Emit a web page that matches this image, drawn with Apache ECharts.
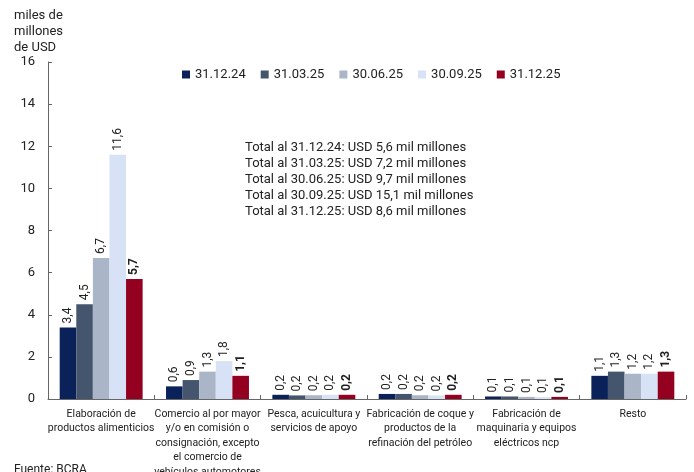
<!DOCTYPE html>
<html><head><meta charset="utf-8">
<script src="https://cdn.jsdelivr.net/npm/echarts@6/dist/echarts.min.js"></script>
<style>html,body{margin:0;padding:0;background:#fff}#c{width:694px;height:472px}</style>
</head><body><div id="c"></div>
<script>
const categories = [
  "Elaboración de\nproductos alimenticios",
  "Comercio al por mayor\ny/o en comisión o\nconsignación, excepto\nel comercio de\nvehículos automotores\ny motocicletas",
  "Pesca, acuicultura y\nservicios de apoyo",
  "Fabricación de coque y\nproductos de la\nrefinación del petróleo",
  "Fabricación de\nmaquinaria y equipos\neléctricos ncp",
  "Resto"
];
const seriesNames = ["31.12.24", "31.03.25", "30.06.25", "30.09.25", "31.12.25"];
const s1 = [3.4, 0.6, 0.2, 0.24, 0.12, 1.1];
const s2 = [4.5, 0.9, 0.17, 0.24, 0.12, 1.3];
const s3 = [6.7, 1.3, 0.18, 0.18, 0.1, 1.2];
const s4 = [11.6, 1.8, 0.2, 0.17, 0.09, 1.2];
const s5 = [5.7, 1.1, 0.2, 0.2, 0.1, 1.3];
const colors = ["#0b2159", "#46556e", "#aab6c8", "#d7e2f6", "#930020"];
const totals = [
  "Total al 31.12.24: USD 5,6 mil millones",
  "Total al 31.03.25: USD 7,2 mil millones",
  "Total al 30.06.25: USD 9,7 mil millones",
  "Total al 30.09.25: USD 15,1 mil millones",
  "Total al 31.12.25: USD 8,6 mil millones"
];
const yTicks = {min: 0, max: 16, interval: 2};
const FONT = "Roboto";
const all = [s1, s2, s3, s4, s5];
const chart = echarts.init(document.getElementById('c'), null, {renderer: 'canvas'});
chart.setOption({
  animation: false,
  textStyle: {fontFamily: FONT},
  color: colors,
  grid: {left: 48, right: 8, top: 62, bottom: 73, containLabel: false, outerBoundsMode: 'none'},
  title: [
    {text: "miles de\nmillones\nde USD", left: 9, top: 3, textStyle: {fontFamily: FONT, fontSize: 13, fontWeight: 'normal', color: '#222', lineHeight: 16}},
    {text: totals.join("\n"), left: 240, top: 135, textStyle: {fontFamily: FONT, fontSize: 13, fontWeight: 'normal', color: '#222', lineHeight: 16}},
    {text: "Fuente: BCRA", left: 9, top: 459, textStyle: {fontFamily: FONT, fontSize: 12, fontWeight: 'normal', color: '#222'}}
  ],
  legend: {
    data: seriesNames, top: 63, left: 177, itemWidth: 8, itemHeight: 8, itemGap: 15,
    icon: 'rect', textStyle: {fontFamily: FONT, fontSize: 13, color: '#222'}
  },
  xAxis: {
    type: 'category', data: categories,
    axisLine: {lineStyle: {color: '#666'}},
    axisTick: {show: true, inside: true, length: 4, alignWithLabel: false, lineStyle: {color: '#666'}},
    axisLabel: {interval: 0, fontFamily: FONT, fontSize: 10.5, color: '#222', lineHeight: 14.5, margin: 8}
  },
  yAxis: {
    type: 'value', min: yTicks.min, max: yTicks.max, interval: yTicks.interval,
    splitLine: {show: false},
    axisLine: {show: true, lineStyle: {color: '#666'}},
    axisTick: {show: true, inside: true, length: 4, lineStyle: {color: '#666'}},
    axisLabel: {fontFamily: FONT, fontSize: 13, color: '#222', margin: 13}
  },
  series: all.map((d, i) => ({
    name: seriesNames[i], type: 'bar', data: d,
    barGap: '0%', barCategoryGap: '22%',
    itemStyle: {color: colors[i]},
    label: {
      show: true, position: 'top', rotate: 90, align: 'left', verticalAlign: 'middle', distance: 4,
      fontFamily: FONT, fontSize: 12, color: '#222', fontWeight: i === 4 ? 'bold' : 'normal',
      formatter: p => p.value.toFixed(1).replace('.', ',')
    }
  }))
});
</script></body></html>
